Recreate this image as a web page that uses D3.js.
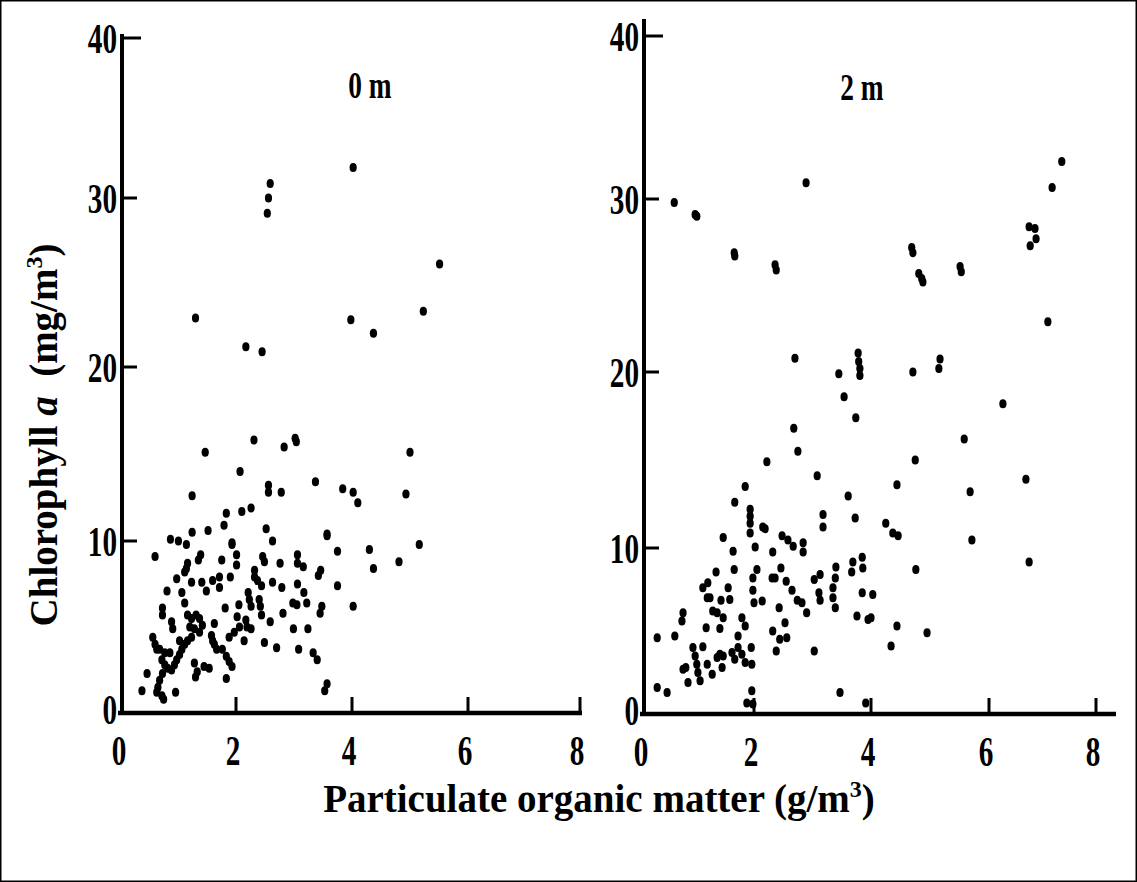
<!DOCTYPE html>
<html>
<head>
<meta charset="utf-8">
<script src="https://cdn.jsdelivr.net/npm/d3@7"></script>
<style>
  html, body { margin: 0; padding: 0; background: #fff; }
  svg { display: block; }
  text { font-family: "Liberation Serif", "Times New Roman", serif; font-weight: bold; fill: #000; }
</style>
</head>
<body>
<svg id="chart" width="1137" height="882"></svg>
<script>
// Data: [particulate organic matter g/m3, chlorophyll a mg/m3]
const POINTS_0M = [
  [2.59,30.9],[2.56,30.0],[2.54,29.1],[4.02,31.9],[1.29,22.9],[2.17,21.2],[2.45,20.9],[3.98,22.8],[5.51,26.1],[5.23,23.3],[4.37,22.0],
  [1.46,15.1],[2.31,15.8],[2.83,15.4],[3.02,15.9],[3.04,15.7],[2.07,14.0],[3.37,13.4],[2.56,13.2],[2.56,12.8],[2.78,12.8],[1.23,12.6],
  [3.84,13.0],[4.02,12.8],[4.10,12.2],[1.83,11.6],[2.10,11.7],[2.26,11.9],[1.79,10.9],[1.51,10.6],[1.23,10.5],[2.52,10.7],[0.85,10.1],
  [0.99,10.0],[1.13,9.8],[1.93,9.9],[1.93,9.8],[2.63,10.0],[3.57,10.4],[3.57,10.3],[3.75,9.4],[0.58,9.1],[1.38,9.2],[1.75,8.9],[2.01,9.2],
  [2.46,9.1],[3.06,9.2],[5.0,15.1],[4.93,12.7],[5.16,9.8],[4.30,9.5],[4.37,8.4],[4.81,8.8],[4.02,6.2],
  [1.34,8.9],[1.15,8.7],[1.13,8.4],[1.10,8.2],[2.01,8.6],[2.49,8.8],[2.76,8.7],[3.06,8.7],[3.16,8.5],[3.46,8.3],[3.42,8.0],[0.96,7.8],
  [0.79,7.1],[1.05,7.0],[1.22,7.6],[1.40,7.6],[1.48,7.1],[1.59,7.7],[1.71,7.9],[1.71,7.3],[1.90,7.9],[2.32,8.3],[2.32,7.9],[2.37,7.7],
  [2.44,7.4],[2.63,7.6],[2.79,7.3],[3.06,7.5],[3.17,7.0],[3.75,7.4],[2.21,7.0],[2.23,6.6],[2.26,6.2],[2.40,6.6],[2.42,6.2],[2.44,5.7],
  [2.98,6.4],[3.05,6.3],[3.22,6.4],[3.48,6.2],[3.45,5.8],[1.81,6.1],[2.05,6.3],[2.02,5.6],[2.17,5.4],[2.19,5.0],[2.26,4.9],[2.81,5.8],
  [2.59,5.3],[0.71,6.1],[0.71,5.7],[0.87,5.3],[0.89,4.9],[1.10,6.4],
  [1.15,5.7],[1.22,5.5],[1.30,5.7],[1.36,5.5],[1.41,5.1],[1.19,5.0],[1.27,4.9],[1.36,4.7],[1.22,4.4],[1.15,4.2],[1.10,4.0],[1.05,3.7],
  [1.01,3.4],[0.96,3.1],[0.92,2.8],[0.87,2.5],
  [1.62,5.2],[1.97,4.7],[1.88,4.4],[1.57,4.5],[1.59,4.2],[1.62,4.0],[1.66,3.7],[2.06,5.0],[2.14,4.2],[2.49,4.1],[2.70,3.8],[2.99,4.9],
  [3.24,4.9],[3.08,3.7],[3.33,3.5],[3.40,3.1],[1.76,3.7],[1.83,3.3],[1.88,3.0],[1.93,2.7],[0.54,4.4],[0.58,4.0],[0.61,3.7],[0.66,3.7],
  [0.75,3.5],[0.84,3.5],[1.01,4.2],[0.70,3.1],[0.75,2.8],[0.80,2.6],[1.27,2.9],[1.32,2.4],[1.29,2.1],[1.44,2.7],[1.53,2.6],[1.83,2.0],
  [0.44,2.3],[0.71,2.3],[0.66,1.9],[0.63,1.5],[0.61,1.2],[0.70,1.0],[0.73,0.8],[0.35,1.3],[0.94,1.2],[3.57,1.7],[3.53,1.3]
];
const POINTS_2M = [
  [0.55,29.8],[0.96,29.0],[0.93,29.1],[2.89,31.0],[7.18,30.7],[7.36,32.3],[6.75,28.4],[1.64,26.9],[1.65,26.7],[2.36,26.2],[2.38,25.9],
  [2.70,20.8],[3.45,19.9],[3.54,18.6],[3.78,21.1],[3.79,20.6],[3.81,20.2],[3.81,19.8],[3.74,17.4],[4.69,27.2],[4.71,26.9],[4.81,25.7],
  [4.86,25.4],[4.88,25.2],[5.51,26.1],[5.53,25.8],[6.86,28.3],[6.88,27.7],[6.77,27.3],[7.10,22.9],[4.71,20.0],[5.17,20.75],[5.15,20.2],
  [6.26,18.2],[5.58,16.2],[4.75,15.0],[4.44,13.6],[6.69,13.9],[5.68,13.2],[4.25,11.4],[4.37,10.85],[4.46,10.7],[5.71,10.45],[3.85,9.45],
  [3.86,8.8],[4.76,8.7],[6.75,9.15],[3.85,7.3],[4.03,7.2],[4.0,5.8],[4.44,5.3],[4.95,4.9],[4.34,4.1],[3.91,0.67],
  [2.68,16.8],[2.75,15.5],[2.22,14.9],[3.08,14.1],[1.84,13.5],[3.61,12.95],[1.65,12.6],[1.93,12.2],[1.93,11.8],[1.93,11.4],[1.93,10.85],
  [3.18,11.9],[3.18,11.2],[3.73,11.7],[2.15,11.2],[2.19,11.1],[2.48,10.7],[1.44,10.6],[2.58,10.45],[2.67,10.1],[2.84,10.3],[2.84,9.76],
  [1.62,9.8],[2.02,10.05],[2.32,9.76],[3.69,9.15],
  [1.31,8.55],[1.64,8.7],[1.16,7.9],[1.07,7.6],[1.15,7.0],[1.2,7.0],[1.53,7.6],[1.56,6.9],[1.40,6.85],[2.05,8.7],[1.98,8.2],[2.31,8.2],
  [2.36,8.2],[2.46,8.8],[2.55,8.0],[2.65,7.45],[2.74,6.85],[2.82,6.7],[1.98,7.45],[2.0,6.7],[2.14,6.8],[3.03,8.1],[3.13,8.4],[3.11,7.3],
  [3.13,6.85],[3.40,8.85],[3.39,8.2],[3.35,7.6],[3.35,7.0],[3.39,6.4],[3.67,8.55],[3.76,5.9],[3.95,5.7],[2.43,6.4],[2.90,6.1],
  [0.71,6.1],[0.69,5.6],[1.25,6.2],[1.33,6.1],[1.44,5.8],[1.38,5.15],[1.78,5.8],[1.84,5.3],[1.71,4.7],[2.53,5.5],[2.32,5.0],[2.44,4.5],
  [2.56,4.6],[2.38,3.8],[1.13,5.2],[0.56,4.7],[0.24,4.6],[0.89,4.0],[0.93,3.5],[0.96,3.0],[0.98,2.5],[1.02,2.0],[0.71,2.7],[0.76,2.8],
  [0.80,1.9],[1.07,4.05],[1.15,3.0],[1.24,2.4],[1.33,3.4],[1.38,3.6],[1.44,3.5],[1.42,2.8],[1.6,3.7],[1.65,3.3],[1.71,4.0],[1.78,3.6],
  [1.84,3.1],[1.96,3.0],[1.95,4.0],[3.03,3.8],[0.24,1.6],[0.42,1.3],[1.96,1.4],[1.87,0.67],[1.98,0.6],[3.47,1.3]
];
const X_TICKS = [0, 2, 4, 6, 8];
const Y_TICKS = [0, 10, 20, 30, 40];
const PANEL_LABELS = ["0 m", "2 m"];
const X_TITLE = "Particulate organic matter (g/m";
const Y_TITLE = ["Chlorophyll ", "a", "  (mg/m"];

const svg = d3.select("#chart");

svg.append("rect")
  .attr("x", 0.75).attr("y", 0.75)
  .attr("width", 1135.5).attr("height", 880.5)
  .attr("fill", "#fff").attr("stroke", "#000").attr("stroke-width", 1.5);

// the scanned axes are not perfectly even, so piecewise scales follow the printed ticks
const panels = [
  {
    points: POINTS_0M, label: PANEL_LABELS[0], labelX: 370, labelY: 98,
    x: d3.scaleLinear().domain(X_TICKS).range([122, 236, 352, 468, 580]),
    y: d3.scaleLinear().domain(Y_TICKS).range([713, 541, 367, 198, 38]),
    xEnd: 582, yTop: 34
  },
  {
    points: POINTS_2M, label: PANEL_LABELS[1], labelX: 862, labelY: 100,
    x: d3.scaleLinear().domain(X_TICKS).range([644, 754, 871, 989, 1096]),
    y: d3.scaleLinear().domain(Y_TICKS).range([714, 548, 372, 199, 36]),
    xEnd: 1116, yTop: 19
  }
];

panels.forEach(function(p) {
  const g = svg.append("g");
  const x0 = p.x(0), y0 = p.y(0);

  // axis lines
  g.append("line")
    .attr("x1", x0).attr("x2", x0).attr("y1", y0 + 2).attr("y2", p.yTop)
    .attr("stroke", "#000").attr("stroke-width", 4);
  g.append("line")
    .attr("x1", x0 - 4).attr("x2", p.xEnd).attr("y1", y0).attr("y2", y0)
    .attr("stroke", "#000").attr("stroke-width", 4.5);

  // inward ticks
  g.selectAll(".ytick")
    .data(Y_TICKS.filter(d => d > 0)).enter()
    .append("line")
      .attr("x1", x0).attr("x2", d => x0 + (d === 40 ? 19 : 15))
      .attr("y1", d => p.y(d)).attr("y2", d => p.y(d))
      .attr("stroke", "#000").attr("stroke-width", 3);
  g.selectAll(".xtick")
    .data(X_TICKS.filter(d => d > 0)).enter()
    .append("line")
      .attr("x1", d => p.x(d)).attr("x2", d => p.x(d))
      .attr("y1", y0).attr("y2", y0 - 16)
      .attr("stroke", "#000").attr("stroke-width", 3);

  // condensed tick labels
  g.selectAll(".ylabel")
    .data(Y_TICKS).enter()
    .append("text")
      .attr("transform", d => `translate(${x0 - 5},${p.y(d) + (d === 0 ? 11 : 15)}) scale(0.68,1)`)
      .attr("text-anchor", "end")
      .style("font-size", "43px")
      .text(d => d);
  g.selectAll(".xlabel")
    .data(X_TICKS).enter()
    .append("text")
      .attr("transform", d => `translate(${p.x(d) - 3},${y0 + 52}) scale(0.68,1)`)
      .attr("text-anchor", "middle")
      .style("font-size", "43px")
      .text(d => d);

  g.append("text")
    .attr("transform", `translate(${p.labelX},${p.labelY}) scale(0.72,1)`)
    .attr("text-anchor", "middle")
    .style("font-size", "38px")
    .text(p.label);

  g.selectAll("ellipse")
    .data(p.points).enter()
    .append("ellipse")
      .attr("cx", d => p.x(d[0]))
      .attr("cy", d => p.y(d[1]))
      .attr("rx", 3.6).attr("ry", 4.5)
      .attr("fill", "#000");
});

// axis titles
const xt = svg.append("text")
  .attr("x", 599).attr("y", 812)
  .attr("text-anchor", "middle")
  .style("font-size", "39px")
  .text(X_TITLE);
xt.append("tspan").attr("dy", -15).style("font-size", "24px").text("3");
xt.append("tspan").attr("dy", 15).text(")");

const yt = svg.append("text")
  .attr("transform", "translate(57,435) rotate(-90)")
  .attr("text-anchor", "middle")
  .attr("xml:space", "preserve")
  .style("white-space", "pre")
  .style("font-size", "39px");
yt.append("tspan").text(Y_TITLE[0]);
yt.append("tspan").style("font-style", "italic").text(Y_TITLE[1]);
yt.append("tspan").text(Y_TITLE[2]);
yt.append("tspan").attr("dy", -15).style("font-size", "24px").text("3");
yt.append("tspan").attr("dy", 15).text(")");
</script>
</body>
</html>
